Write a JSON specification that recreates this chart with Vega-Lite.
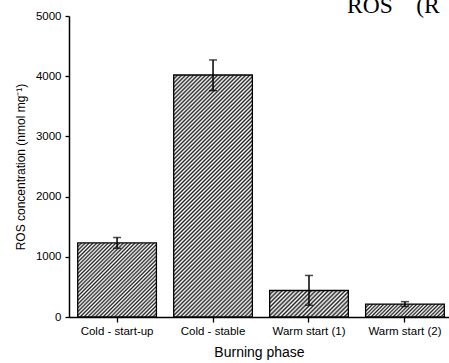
{
  "$schema": "https://vega.github.io/schema/vega-lite/v6.json",
  "autosize": {"type": "none"},
  "padding": {"left": 69, "top": 16, "right": 0, "bottom": 46},
  "width": 380,
  "height": 301,
  "background": "white",
  "title": {"text": "ROS\u2003(R", "anchor": "start", "frame": "group", "font": "Liberation Serif", "fontSize": 23.5, "fontWeight": "normal", "color": "black", "baseline": "alphabetic", "offset": 0, "dx": 278, "dy": 26},
  "config": {"view": {"stroke": null}, "font": "Liberation Sans"},
  "data": {"values": [
    {"phase": "Cold - start-up", "value": 1230, "lo": 1140, "hi": 1320},
    {"phase": "Cold - stable", "value": 4020, "lo": 3760, "hi": 4270},
    {"phase": "Warm start (1)", "value": 440, "lo": 195, "hi": 690},
    {"phase": "Warm start (2)", "value": 215, "lo": 175, "hi": 255}
  ]},
  "encoding": {
    "x": {"field": "phase", "type": "nominal", "sort": null,
      "scale": {"paddingInner": 0.18, "paddingOuter": 0.07, "align": 0.65},
      "axis": {"title": "Burning phase", "titleFont": "Liberation Sans", "titleFontSize": 14, "titleFontWeight": "normal", "titleColor": "black", "titlePadding": 9,
        "labelFont": "Liberation Sans", "labelFontSize": 11.5, "labelColor": "black", "labelAngle": 0, "labelPadding": 3,
        "tickSize": 5, "tickColor": "black", "tickWidth": 1.3, "domainColor": "black", "domainWidth": 1.5}}
  },
  "layer": [
    {"mark": {"type": "bar", "stroke": "black", "strokeWidth": 1.3},
     "encoding": {
       "y": {"field": "value", "type": "quantitative",
         "scale": {"domain": [0, 5000], "nice": false},
         "axis": {"title": "ROS concentration (nmol mg⁻¹)", "titleFont": "Liberation Sans", "titleFontSize": 12, "titleFontWeight": "normal", "titleColor": "black", "titlePadding": 8,
           "values": [0, 500, 1000, 1500, 2000, 2500, 3000, 3500, 4000, 4500, 5000], "format": "d",
           "labelExpr": "datum.value % 1000 === 0 ? datum.label : ''",
           "labelFont": "Liberation Sans", "labelFontSize": 11.5, "labelColor": "black", "labelPadding": 4,
           "tickSize": {"condition": {"test": "datum.value % 1000 === 0", "value": 4}, "value": 3},
           "tickColor": "black", "tickWidth": 1.3, "domainColor": "black", "domainWidth": 1.5, "grid": false}},
       "fill": {
         "condition": [
           {"test": "datum.phase === 'Cold - start-up'", "value": {"gradient": "linear", "x1": 0, "y1": 0, "x2": 1.0295, "y2": 0.9687, "stops": [
             {"offset":0,"color":"#222"},{"offset":0.0125,"color":"#fff"},{"offset":0.025,"color":"#222"},{"offset":0.0375,"color":"#fff"},{"offset":0.05,"color":"#222"},{"offset":0.0625,"color":"#fff"},{"offset":0.075,"color":"#222"},{"offset":0.0875,"color":"#fff"},
             {"offset":0.1,"color":"#222"},{"offset":0.1125,"color":"#fff"},{"offset":0.125,"color":"#222"},{"offset":0.1375,"color":"#fff"},{"offset":0.15,"color":"#222"},{"offset":0.1625,"color":"#fff"},{"offset":0.175,"color":"#222"},{"offset":0.1875,"color":"#fff"},
             {"offset":0.2,"color":"#222"},{"offset":0.2125,"color":"#fff"},{"offset":0.225,"color":"#222"},{"offset":0.2375,"color":"#fff"},{"offset":0.25,"color":"#222"},{"offset":0.2625,"color":"#fff"},{"offset":0.275,"color":"#222"},{"offset":0.2875,"color":"#fff"},
             {"offset":0.3,"color":"#222"},{"offset":0.3125,"color":"#fff"},{"offset":0.325,"color":"#222"},{"offset":0.3375,"color":"#fff"},{"offset":0.35,"color":"#222"},{"offset":0.3625,"color":"#fff"},{"offset":0.375,"color":"#222"},{"offset":0.3875,"color":"#fff"},
             {"offset":0.4,"color":"#222"},{"offset":0.4125,"color":"#fff"},{"offset":0.425,"color":"#222"},{"offset":0.4375,"color":"#fff"},{"offset":0.45,"color":"#222"},{"offset":0.4625,"color":"#fff"},{"offset":0.475,"color":"#222"},{"offset":0.4875,"color":"#fff"},
             {"offset":0.5,"color":"#222"},{"offset":0.5125,"color":"#fff"},{"offset":0.525,"color":"#222"},{"offset":0.5375,"color":"#fff"},{"offset":0.55,"color":"#222"},{"offset":0.5625,"color":"#fff"},{"offset":0.575,"color":"#222"},{"offset":0.5875,"color":"#fff"},
             {"offset":0.6,"color":"#222"},{"offset":0.6125,"color":"#fff"},{"offset":0.625,"color":"#222"},{"offset":0.6375,"color":"#fff"},{"offset":0.65,"color":"#222"},{"offset":0.6625,"color":"#fff"},{"offset":0.675,"color":"#222"},{"offset":0.6875,"color":"#fff"},
             {"offset":0.7,"color":"#222"},{"offset":0.7125,"color":"#fff"},{"offset":0.725,"color":"#222"},{"offset":0.7375,"color":"#fff"},{"offset":0.75,"color":"#222"},{"offset":0.7625,"color":"#fff"},{"offset":0.775,"color":"#222"},{"offset":0.7875,"color":"#fff"},
             {"offset":0.8,"color":"#222"},{"offset":0.8125,"color":"#fff"},{"offset":0.825,"color":"#222"},{"offset":0.8375,"color":"#fff"},{"offset":0.85,"color":"#222"},{"offset":0.8625,"color":"#fff"},{"offset":0.875,"color":"#222"},{"offset":0.8875,"color":"#fff"},
             {"offset":0.9,"color":"#222"},{"offset":0.9125,"color":"#fff"},{"offset":0.925,"color":"#222"},{"offset":0.9375,"color":"#fff"},{"offset":0.95,"color":"#222"},{"offset":0.9625,"color":"#fff"},{"offset":0.975,"color":"#222"},{"offset":0.9875,"color":"#fff"},
             {"offset":1,"color":"#222"}]}},
           {"test": "datum.phase === 'Cold - stable'", "value": {"gradient": "linear", "x1": 0, "y1": 0, "x2": 0.3897, "y2": 1.1985, "stops": [
             {"offset":0,"color":"#222"},{"offset":0.00625,"color":"#fff"},{"offset":0.0125,"color":"#222"},{"offset":0.01875,"color":"#fff"},{"offset":0.025,"color":"#222"},{"offset":0.03125,"color":"#fff"},{"offset":0.0375,"color":"#222"},{"offset":0.04375,"color":"#fff"},
             {"offset":0.05,"color":"#222"},{"offset":0.05625,"color":"#fff"},{"offset":0.0625,"color":"#222"},{"offset":0.06875,"color":"#fff"},{"offset":0.075,"color":"#222"},{"offset":0.08125,"color":"#fff"},{"offset":0.0875,"color":"#222"},{"offset":0.09375,"color":"#fff"},
             {"offset":0.1,"color":"#222"},{"offset":0.10625,"color":"#fff"},{"offset":0.1125,"color":"#222"},{"offset":0.11875,"color":"#fff"},{"offset":0.125,"color":"#222"},{"offset":0.13125,"color":"#fff"},{"offset":0.1375,"color":"#222"},{"offset":0.14375,"color":"#fff"},
             {"offset":0.15,"color":"#222"},{"offset":0.15625,"color":"#fff"},{"offset":0.1625,"color":"#222"},{"offset":0.16875,"color":"#fff"},{"offset":0.175,"color":"#222"},{"offset":0.18125,"color":"#fff"},{"offset":0.1875,"color":"#222"},{"offset":0.19375,"color":"#fff"},
             {"offset":0.2,"color":"#222"},{"offset":0.20625,"color":"#fff"},{"offset":0.2125,"color":"#222"},{"offset":0.21875,"color":"#fff"},{"offset":0.225,"color":"#222"},{"offset":0.23125,"color":"#fff"},{"offset":0.2375,"color":"#222"},{"offset":0.24375,"color":"#fff"},
             {"offset":0.25,"color":"#222"},{"offset":0.25625,"color":"#fff"},{"offset":0.2625,"color":"#222"},{"offset":0.26875,"color":"#fff"},{"offset":0.275,"color":"#222"},{"offset":0.28125,"color":"#fff"},{"offset":0.2875,"color":"#222"},{"offset":0.29375,"color":"#fff"},
             {"offset":0.3,"color":"#222"},{"offset":0.30625,"color":"#fff"},{"offset":0.3125,"color":"#222"},{"offset":0.31875,"color":"#fff"},{"offset":0.325,"color":"#222"},{"offset":0.33125,"color":"#fff"},{"offset":0.3375,"color":"#222"},{"offset":0.34375,"color":"#fff"},
             {"offset":0.35,"color":"#222"},{"offset":0.35625,"color":"#fff"},{"offset":0.3625,"color":"#222"},{"offset":0.36875,"color":"#fff"},{"offset":0.375,"color":"#222"},{"offset":0.38125,"color":"#fff"},{"offset":0.3875,"color":"#222"},{"offset":0.39375,"color":"#fff"},
             {"offset":0.4,"color":"#222"},{"offset":0.40625,"color":"#fff"},{"offset":0.4125,"color":"#222"},{"offset":0.41875,"color":"#fff"},{"offset":0.425,"color":"#222"},{"offset":0.43125,"color":"#fff"},{"offset":0.4375,"color":"#222"},{"offset":0.44375,"color":"#fff"},
             {"offset":0.45,"color":"#222"},{"offset":0.45625,"color":"#fff"},{"offset":0.4625,"color":"#222"},{"offset":0.46875,"color":"#fff"},{"offset":0.475,"color":"#222"},{"offset":0.48125,"color":"#fff"},{"offset":0.4875,"color":"#222"},{"offset":0.49375,"color":"#fff"},
             {"offset":0.5,"color":"#222"},{"offset":0.50625,"color":"#fff"},{"offset":0.5125,"color":"#222"},{"offset":0.51875,"color":"#fff"},{"offset":0.525,"color":"#222"},{"offset":0.53125,"color":"#fff"},{"offset":0.5375,"color":"#222"},{"offset":0.54375,"color":"#fff"},
             {"offset":0.55,"color":"#222"},{"offset":0.55625,"color":"#fff"},{"offset":0.5625,"color":"#222"},{"offset":0.56875,"color":"#fff"},{"offset":0.575,"color":"#222"},{"offset":0.58125,"color":"#fff"},{"offset":0.5875,"color":"#222"},{"offset":0.59375,"color":"#fff"},
             {"offset":0.6,"color":"#222"},{"offset":0.60625,"color":"#fff"},{"offset":0.6125,"color":"#222"},{"offset":0.61875,"color":"#fff"},{"offset":0.625,"color":"#222"},{"offset":0.63125,"color":"#fff"},{"offset":0.6375,"color":"#222"},{"offset":0.64375,"color":"#fff"},
             {"offset":0.65,"color":"#222"},{"offset":0.65625,"color":"#fff"},{"offset":0.6625,"color":"#222"},{"offset":0.66875,"color":"#fff"},{"offset":0.675,"color":"#222"},{"offset":0.68125,"color":"#fff"},{"offset":0.6875,"color":"#222"},{"offset":0.69375,"color":"#fff"},
             {"offset":0.7,"color":"#222"},{"offset":0.70625,"color":"#fff"},{"offset":0.7125,"color":"#222"},{"offset":0.71875,"color":"#fff"},{"offset":0.725,"color":"#222"},{"offset":0.73125,"color":"#fff"},{"offset":0.7375,"color":"#222"},{"offset":0.74375,"color":"#fff"},
             {"offset":0.75,"color":"#222"},{"offset":0.75625,"color":"#fff"},{"offset":0.7625,"color":"#222"},{"offset":0.76875,"color":"#fff"},{"offset":0.775,"color":"#222"},{"offset":0.78125,"color":"#fff"},{"offset":0.7875,"color":"#222"},{"offset":0.79375,"color":"#fff"},
             {"offset":0.8,"color":"#222"},{"offset":0.80625,"color":"#fff"},{"offset":0.8125,"color":"#222"},{"offset":0.81875,"color":"#fff"},{"offset":0.825,"color":"#222"},{"offset":0.83125,"color":"#fff"},{"offset":0.8375,"color":"#222"},{"offset":0.84375,"color":"#fff"},
             {"offset":0.85,"color":"#222"},{"offset":0.85625,"color":"#fff"},{"offset":0.8625,"color":"#222"},{"offset":0.86875,"color":"#fff"},{"offset":0.875,"color":"#222"},{"offset":0.88125,"color":"#fff"},{"offset":0.8875,"color":"#222"},{"offset":0.89375,"color":"#fff"},
             {"offset":0.9,"color":"#222"},{"offset":0.90625,"color":"#fff"},{"offset":0.9125,"color":"#222"},{"offset":0.91875,"color":"#fff"},{"offset":0.925,"color":"#222"},{"offset":0.93125,"color":"#fff"},{"offset":0.9375,"color":"#222"},{"offset":0.94375,"color":"#fff"},
             {"offset":0.95,"color":"#222"},{"offset":0.95625,"color":"#fff"},{"offset":0.9625,"color":"#222"},{"offset":0.96875,"color":"#fff"},{"offset":0.975,"color":"#222"},{"offset":0.98125,"color":"#fff"},{"offset":0.9875,"color":"#222"},{"offset":0.99375,"color":"#fff"},
             {"offset":1,"color":"#222"}]}},
           {"test": "datum.phase === 'Warm start (1)'", "value": {"gradient": "linear", "x1": 0, "y1": 0, "x2": 1.2006, "y2": 0.4041, "stops": [
             {"offset":0,"color":"#222"},{"offset":0.02,"color":"#fff"},{"offset":0.04,"color":"#222"},{"offset":0.06,"color":"#fff"},{"offset":0.08,"color":"#222"},{"offset":0.1,"color":"#fff"},{"offset":0.12,"color":"#222"},{"offset":0.14,"color":"#fff"},
             {"offset":0.16,"color":"#222"},{"offset":0.18,"color":"#fff"},{"offset":0.2,"color":"#222"},{"offset":0.22,"color":"#fff"},{"offset":0.24,"color":"#222"},{"offset":0.26,"color":"#fff"},{"offset":0.28,"color":"#222"},{"offset":0.3,"color":"#fff"},
             {"offset":0.32,"color":"#222"},{"offset":0.34,"color":"#fff"},{"offset":0.36,"color":"#222"},{"offset":0.38,"color":"#fff"},{"offset":0.4,"color":"#222"},{"offset":0.42,"color":"#fff"},{"offset":0.44,"color":"#222"},{"offset":0.46,"color":"#fff"},
             {"offset":0.48,"color":"#222"},{"offset":0.5,"color":"#fff"},{"offset":0.52,"color":"#222"},{"offset":0.54,"color":"#fff"},{"offset":0.56,"color":"#222"},{"offset":0.58,"color":"#fff"},{"offset":0.6,"color":"#222"},{"offset":0.62,"color":"#fff"},
             {"offset":0.64,"color":"#222"},{"offset":0.66,"color":"#fff"},{"offset":0.68,"color":"#222"},{"offset":0.7,"color":"#fff"},{"offset":0.72,"color":"#222"},{"offset":0.74,"color":"#fff"},{"offset":0.76,"color":"#222"},{"offset":0.78,"color":"#fff"},
             {"offset":0.8,"color":"#222"},{"offset":0.82,"color":"#fff"},{"offset":0.84,"color":"#222"},{"offset":0.86,"color":"#fff"},{"offset":0.88,"color":"#222"},{"offset":0.9,"color":"#fff"},{"offset":0.92,"color":"#222"},{"offset":0.94,"color":"#fff"},
             {"offset":0.96,"color":"#222"},{"offset":0.98,"color":"#fff"},{"offset":1,"color":"#222"}]}}
         ],
         "value": {"gradient": "linear", "x1": 0, "y1": 0, "x2": 1.1338, "y2": 0.1864, "stops": [
             {"offset":0,"color":"#222"},{"offset":0.02,"color":"#fff"},{"offset":0.04,"color":"#222"},{"offset":0.06,"color":"#fff"},{"offset":0.08,"color":"#222"},{"offset":0.1,"color":"#fff"},{"offset":0.12,"color":"#222"},{"offset":0.14,"color":"#fff"},
             {"offset":0.16,"color":"#222"},{"offset":0.18,"color":"#fff"},{"offset":0.2,"color":"#222"},{"offset":0.22,"color":"#fff"},{"offset":0.24,"color":"#222"},{"offset":0.26,"color":"#fff"},{"offset":0.28,"color":"#222"},{"offset":0.3,"color":"#fff"},
             {"offset":0.32,"color":"#222"},{"offset":0.34,"color":"#fff"},{"offset":0.36,"color":"#222"},{"offset":0.38,"color":"#fff"},{"offset":0.4,"color":"#222"},{"offset":0.42,"color":"#fff"},{"offset":0.44,"color":"#222"},{"offset":0.46,"color":"#fff"},
             {"offset":0.48,"color":"#222"},{"offset":0.5,"color":"#fff"},{"offset":0.52,"color":"#222"},{"offset":0.54,"color":"#fff"},{"offset":0.56,"color":"#222"},{"offset":0.58,"color":"#fff"},{"offset":0.6,"color":"#222"},{"offset":0.62,"color":"#fff"},
             {"offset":0.64,"color":"#222"},{"offset":0.66,"color":"#fff"},{"offset":0.68,"color":"#222"},{"offset":0.7,"color":"#fff"},{"offset":0.72,"color":"#222"},{"offset":0.74,"color":"#fff"},{"offset":0.76,"color":"#222"},{"offset":0.78,"color":"#fff"},
             {"offset":0.8,"color":"#222"},{"offset":0.82,"color":"#fff"},{"offset":0.84,"color":"#222"},{"offset":0.86,"color":"#fff"},{"offset":0.88,"color":"#222"},{"offset":0.9,"color":"#fff"},{"offset":0.92,"color":"#222"},{"offset":0.94,"color":"#fff"},
             {"offset":0.96,"color":"#222"},{"offset":0.98,"color":"#fff"},{"offset":1,"color":"#222"}]}
       }
     }},
    {"mark": {"type": "rule", "color": "black", "strokeWidth": 1.5},
     "encoding": {"y": {"field": "lo", "type": "quantitative"}, "y2": {"field": "hi"}}},
    {"mark": {"type": "tick", "color": "black", "thickness": 1.5, "size": 8},
     "encoding": {"y": {"field": "hi", "type": "quantitative"}}},
    {"mark": {"type": "tick", "color": "black", "thickness": 1.5, "size": 8},
     "encoding": {"y": {"field": "lo", "type": "quantitative"}}}
  ]
}
